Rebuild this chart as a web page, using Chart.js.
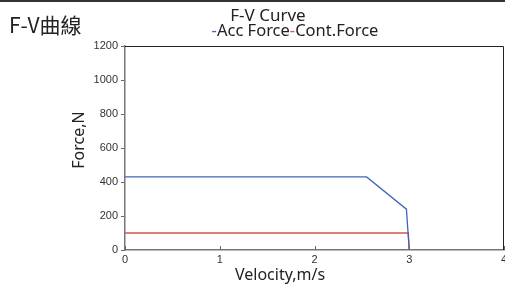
<!DOCTYPE html>
<html>
<head>
<meta charset="utf-8">
<script src="https://cdn.jsdelivr.net/npm/chart.js@4"></script>
<style>
  body { margin: 0; background: #fff; }
  #wrap { width: 505px; height: 286px; }
</style>
</head>
<body>
<div id="wrap"><canvas id="fv" width="505" height="286"></canvas></div>
<script>
// data
const accVelocity = [0, 2.55, 2.97, 3.0];
const accForce = [430, 430, 240, 0];
const contVelocity = [0, 2.99, 3.0];
const contForce = [100, 100, 0];
const xTicks = [0, 1, 2, 3, 4];
const yTicks = [0, 200, 400, 600, 800, 1000, 1200];

const blue = '#3f67b5';
const red = '#d9534f';
const tickFont = '"Liberation Sans", sans-serif';
const textFont = '"Noto Sans", "Open Sans", sans-serif';

function points(xs, ys) {
    return xs.map((x, i) => ({ x: x, y: ys[i] }));
}

//draws texts, frame and inner ticks
const decor = {
    id: 'decor',
    afterDraw(chart) {
        const ctx = chart.ctx;
        const a = chart.chartArea;
        const xs = chart.scales.x;
        ctx.save();

        // top rule
        ctx.fillStyle = '#333';
        ctx.fillRect(0, 0, 505, 2);

        // frame top/right
        ctx.strokeStyle = '#222';
        ctx.lineWidth = 1;
        ctx.beginPath();
        ctx.moveTo(a.left, a.top + 0.5);
        ctx.lineTo(a.right - 0.5, a.top + 0.5);
        ctx.lineTo(a.right - 0.5, a.bottom);
        ctx.stroke();

        // x ticks pointing inward
        ctx.strokeStyle = '#666';
        xTicks.forEach(v => {
            const px = Math.round(xs.getPixelForValue(v)) + 0.5;
            ctx.beginPath();
            ctx.moveTo(px, a.bottom);
            ctx.lineTo(px, a.bottom - 4);
            ctx.stroke();
        });

        // heading
        ctx.fillStyle = '#222';
        ctx.textBaseline = 'middle';
        ctx.textAlign = 'left';
        ctx.font = '21px "Noto Sans CJK TC", ' + textFont;
        ctx.fillText('F-V曲線', 9, 25);

        // title
        ctx.textAlign = 'center';
        ctx.font = '17px ' + textFont;
        ctx.fillText('F-V Curve', 268, 16);

        ctx.font = '16.5px ' + textFont;
        const parts = [['-', blue], ['Acc Force', '#222'], ['-', red], ['Cont.Force', '#222']];
        let total = 0;
        parts.forEach(p => total += ctx.measureText(p[0]).width);
        let x = 295 - total / 2;
        ctx.textAlign = 'left';
        parts.forEach(p => {
            ctx.fillStyle = p[1];
            ctx.fillText(p[0], x, 31);
            x += ctx.measureText(p[0]).width;
        });

        // axis titles
        ctx.fillStyle = '#222';
        ctx.textAlign = 'center';
        ctx.font = '16px ' + textFont;
        ctx.fillText('Velocity,m/s', 280, 275);
        ctx.translate(79, 140);
        ctx.rotate(-Math.PI / 2);
        ctx.fillText('Force,N', 0, 0);
        ctx.restore();
    }
};

new Chart(document.getElementById('fv'), {
    type: 'scatter',
    data: {
        datasets: [
            {
                label: 'Acc Force',
                data: points(accVelocity, accForce),
                showLine: true,
                borderColor: blue,
                borderWidth: 1.3,
                pointRadius: 0,
                tension: 0
            },
            {
                label: 'Cont.Force',
                data: points(contVelocity, contForce),
                showLine: true,
                borderColor: red,
                borderWidth: 1.3,
                pointRadius: 0,
                tension: 0
            }
        ]
    },
    options: {
        responsive: false,
        animation: false,
        layout: { padding: { left: 0, top: 46, right: 1, bottom: 0 } },
        plugins: {
            legend: { display: false },
            title: { display: false },
            tooltip: { enabled: false }
        },
        scales: {
            x: {
                type: 'linear',
                min: 0,
                max: 4,
                afterBuildTicks: s => { s.ticks = xTicks.map(v => ({ value: v })); },
                afterFit: s => { s.height = 36; s.paddingRight = 0; s.paddingLeft = 0; },
                grid: { display: true, drawOnChartArea: false, drawTicks: false },
                border: { color: '#777', width: 1.5 },
                ticks: { color: '#333', padding: 3, maxRotation: 0, callback: v => String(v), font: { family: tickFont, size: 11 } }
            },
            y: {
                min: 0,
                max: 1200,
                afterBuildTicks: s => { s.ticks = yTicks.map(v => ({ value: v })); },
                afterFit: s => { s.width = 125; s.paddingTop = 0; s.paddingBottom = 0; },
                grid: { drawOnChartArea: false, tickLength: 4, color: '#666' },
                border: { color: '#777', width: 1.5 },
                ticks: { color: '#333', padding: 3, callback: v => String(v), font: { family: tickFont, size: 11 } }
            }
        }
    },
    plugins: [decor]
});
</script>
</body>
</html>
